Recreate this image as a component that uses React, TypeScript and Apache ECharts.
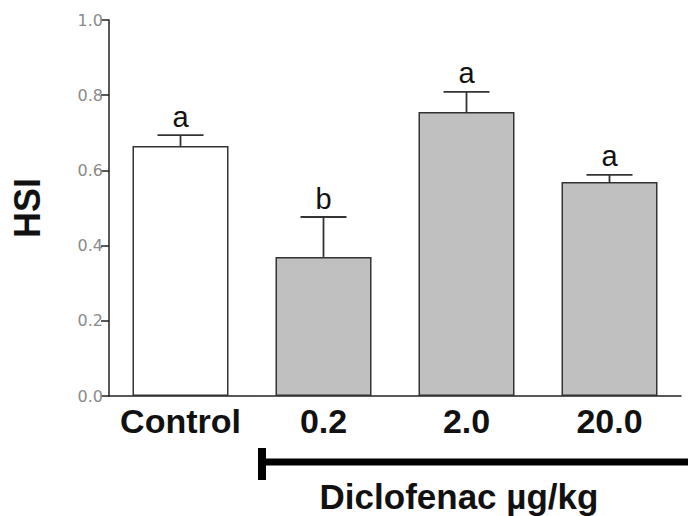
import React, { useEffect, useRef } from "react";
import * as echarts from "echarts";

const categories = ["Control", "0.2", "2.0", "20.0"];
const means = [0.665, 0.37, 0.755, 0.569];
const errors = [0.029, 0.106, 0.054, 0.019];
const letters = ["a", "b", "a", "a"];
const barColors = ["#ffffff", "#c0c0c0", "#c0c0c0", "#c0c0c0"];
const yTicks = [0, 0.2, 0.4, 0.6, 0.8, 1.0];

export default function App() {
  const ref = useRef<HTMLDivElement>(null);
  useEffect(() => {
    if (!ref.current) return;
    const chart = echarts.init(ref.current, null, { renderer: "svg" });
    const errData = categories.map((c, i) => [i, means[i], errors[i], letters[i]]);
    chart.setOption({
      animation: false,
      backgroundColor: "#ffffff",
      grid: { left: 109, right: 7, top: 20, bottom: 120 },
      xAxis: {
        type: "category",
        data: categories,
        axisLine: { lineStyle: { color: "#222", width: 1.5 } },
        axisTick: { show: false },
        axisLabel: {
          interval: 0,
          color: "#111",
          fontFamily: "Liberation Sans, Arial, sans-serif",
          fontWeight: "bold",
          fontSize: 34,
          margin: 8,
        },
      },
      yAxis: {
        type: "value",
        min: yTicks[0],
        max: yTicks[yTicks.length - 1],
        interval: 0.2,
        name: "HSI",
        nameLocation: "middle",
        nameRotate: 90,
        nameGap: 72,
        nameTextStyle: {
          color: "#111",
          fontFamily: "Liberation Sans, Arial, sans-serif",
          fontWeight: "bold",
          fontSize: 36,
          padding: [0, 0, -8, 0],
        },
        splitLine: { show: false },
        axisLine: { show: true, lineStyle: { color: "#222", width: 1.5 } },
        axisTick: { show: true, length: 8, lineStyle: { color: "#222", width: 1.5 } },
        axisLabel: {
          color: "#8a8a8a",
          fontFamily: "DejaVu Sans, sans-serif",
          fontSize: 16,
          margin: 6,
          formatter: (v: number) => v.toFixed(1),
        },
      },
      series: [
        {
          type: "bar",
          barWidth: 96,
          data: means.map((v, i) => ({
            value: v,
            itemStyle: { color: barColors[i], borderColor: "#333", borderWidth: 1.5 },
          })),
        },
        {
          type: "custom",
          data: errData,
          z: 5,
          renderItem: (params: any, api: any) => {
            const idx = api.value(0);
            const m = api.value(1);
            const e = api.value(2);
            const letter = letters[params.dataIndex];
            const p0 = api.coord([idx, m]);
            const p1 = api.coord([idx, m + e]);
            const half = 23;
            return {
              type: "group",
              children: [
                {
                  type: "line",
                  shape: { x1: p0[0], y1: p0[1], x2: p1[0], y2: p1[1] },
                  style: { stroke: "#333", lineWidth: 1.8 },
                },
                {
                  type: "line",
                  shape: { x1: p1[0] - half, y1: p1[1], x2: p1[0] + half, y2: p1[1] },
                  style: { stroke: "#333", lineWidth: 1.8 },
                },
                {
                  type: "text",
                  x: p1[0],
                  y: p1[1] - 4,
                  style: {
                    text: letter,
                    fill: "#111",
                    font: "29px 'Liberation Sans', Arial, sans-serif",
                    textAlign: "center",
                    textVerticalAlign: "bottom",
                  },
                },
              ],
            };
          },
        },
      ],
      graphic: [
        {
          type: "line",
          shape: { x1: 262, y1: 462, x2: 688, y2: 462 },
          style: { stroke: "#000", lineWidth: 7 },
        },
        {
          type: "line",
          shape: { x1: 262, y1: 448, x2: 262, y2: 480 },
          style: { stroke: "#000", lineWidth: 8 },
        },
        {
          type: "text",
          x: 459,
          y: 496,
          style: {
            text: "Diclofenac µg/kg",
            fill: "#111",
            font: "bold 35px 'Liberation Sans', Arial, sans-serif",
            textAlign: "center",
            textVerticalAlign: "middle",
          },
        },
      ],
    });
    return () => chart.dispose();
  }, []);
  return <div ref={ref} style={{ width: 688, height: 516, position: "absolute", left: 0, top: 0 }} />;
}
